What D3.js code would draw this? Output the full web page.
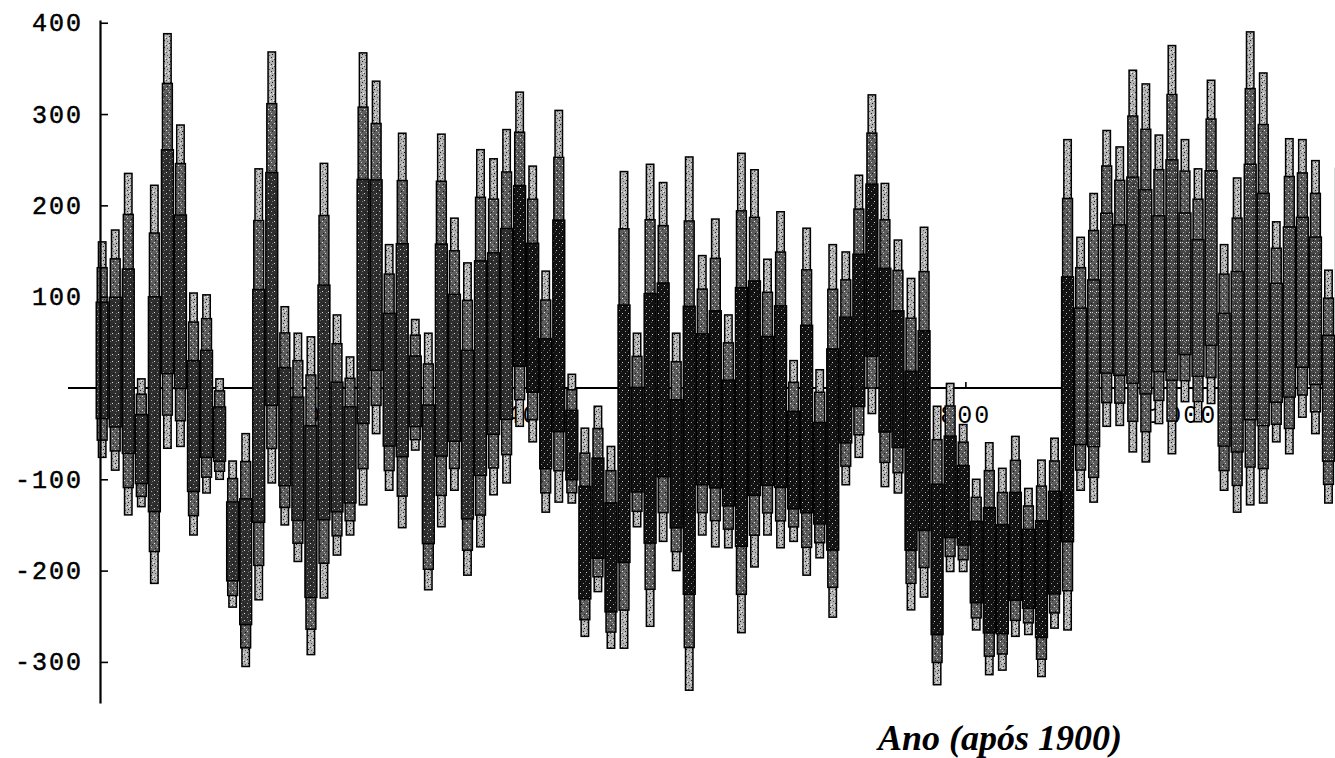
<!DOCTYPE html>
<html>
<head>
<meta charset="utf-8">
<script src="https://cdnjs.cloudflare.com/ajax/libs/d3/7.8.5/d3.min.js"></script>
<style>
  html, body { margin: 0; padding: 0; background: #fff; overflow: hidden; }
</style>
</head>
<body>
<svg id="chart"></svg>
<script>
// yearly extremes of the monthly series
var years = [1901,1902,1903,1904,1905,1906,1907,1908,1909,1910,
             1911,1912,1913,1914,1915,1916,1917,1918,1919,1920,
             1921,1922,1923,1924,1925,1926,1927,1928,1929,1930,
             1931,1932,1933,1934,1935,1936,1937,1938,1939,1940,
             1941,1942,1943,1944,1945,1946,1947,1948,1949,1950,
             1951,1952,1953,1954,1955,1956,1957,1958,1959,1960,
             1961,1962,1963,1964,1965,1966,1967,1968,1969,1970,
             1971,1972,1973,1974,1975,1976,1977,1978,1979,1980,
             1981,1982,1983,1984,1985,1986,1987,1988,1989,1990,
             1991,1992,1993,1994,1995,1996];

var highs = [160,173,235,10,222,388,288,104,102,10,
             -80,-50,240,368,89,60,56,246,80,34,
             367,336,157,279,75,60,278,186,137,261,
             251,283,324,243,128,304,15,-44,-20,-64,
             237,60,245,225,60,253,145,185,80,257,
             239,141,193,30,175,20,157,149,233,321,
             224,162,120,176,-20,5,-40,-100,-60,-88,
             -53,-110,-79,-55,272,165,213,282,264,348,
             333,277,375,272,240,337,157,230,390,345,
             182,273,272,249,129,383];

var lows = [-76,-90,-139,-130,-214,-66,-64,-161,-115,-100,
            -240,-305,-232,-104,-150,-190,-292,-230,-183,-161,
            -128,-50,-112,-153,-68,-221,-152,-112,-205,-174,
            -117,-104,-42,-59,-136,-125,-126,-272,-223,-285,
            -285,-152,-261,-168,-200,-331,-161,-174,-175,-268,
            -196,-161,-175,-168,-205,-186,-251,-106,-76,-28,
            -108,-115,-243,-229,-325,-201,-201,-265,-314,-309,
            -272,-270,-316,-263,-265,-112,-125,-42,-41,-70,
            -81,-39,-72,-15,-37,-17,-112,-136,-128,-126,
            -59,-72,-32,-50,-126,-126];

var monthTicks = [200, 400, 600, 800, 1000];
var monthMinor = [40,80,120,160,240,280,320,360,440,480,520,560,640,680,720,760,840,880,920,960,1040,1080,1120];
var valueTicks = [-300, -200, -100, 100, 200, 300, 400];
var axisTitle = "Ano (após 1900)";

var W = 1335, H = 758;
var svg = d3.select("#chart").attr("width", W).attr("height", H);

var x = d3.scaleLinear().domain([4, 1140]).range([100, 1335]);
var y = d3.scaleLinear().domain([-345, 403]).range([703, 20]);

var defs = svg.append("defs");

function speckle(id, bg, dots) {
    var p = defs.append("pattern")
        .attr("id", id)
        .attr("patternUnits", "userSpaceOnUse")
        .attr("width", 6).attr("height", 7);
    p.append("rect").attr("width", 6).attr("height", 7).attr("fill", bg);
    dots.forEach(function (d) {
        p.append("rect").attr("x", d[0]).attr("y", d[1])
            .attr("width", 1).attr("height", 1).attr("fill", d[2]);
    });
}
speckle("tipLight", "#b4b4b4", [[1,1,"#222"],[4,3,"#444"],[2,5,"#111"],[0,3,"#eee"],[5,6,"#555"],[3,2,"#fff"]]);
speckle("midGrey", "#5c5c5c", [[1,1,"#ccc"],[4,4,"#eee"],[2,5,"#222"],[5,2,"#111"],[0,6,"#aaa"]]);
speckle("coreDark", "#121212", [[1,2,"#999"],[4,5,"#ccc"],[3,0,"#555"]]);
speckle("coreMid", "#2e2e2e", [[1,1,"#aaa"],[4,4,"#ddd"],[2,5,"#777"],[5,2,"#111"]]);
speckle("coreGrey", "#444", [[1,1,"#bbb"],[4,4,"#eee"],[2,5,"#888"],[5,2,"#111"],[0,4,"#ccc"],[3,6,"#999"]]);

var fmt = function (d) { return d3.format("d")(d).replace("\u2212", "-"); };

// x axis (drawn first so the data covers it like the original)
var gx = svg.append("g").attr("transform", "translate(0," + y(0) + ")");
gx.append("line")
    .attr("x1", 68).attr("x2", W)
    .attr("stroke", "#000").attr("stroke-width", 2.2);
gx.call(d3.axisBottom(x).tickValues(monthMinor).tickSizeInner(-3).tickSizeOuter(0).tickFormat(""));
gx.call(d3.axisBottom(x).tickValues(monthTicks).tickSizeInner(-6).tickSizeOuter(0).tickPadding(17).tickFormat(fmt));
gx.selectAll(".domain").remove();
gx.selectAll(".tick line").attr("stroke", "#000").attr("stroke-width", 1.6);
gx.selectAll(".tick text")
    .attr("fill", "#000")
    .style("font-family", "'Liberation Mono', 'DejaVu Sans Mono', monospace")
    .style("font-size", "25px")
    .style("letter-spacing", "2px");

// data columns: thin light tip over the full yearly range, then wider and darker bands
var cols = svg.append("g");
function monthStart(yr) { return (yr - 1901) * 12; }
function coreFill(yr) {
    if (yr >= 1933 && yr <= 1975) return "url(#coreDark)";
    return yr > 1975 ? "url(#coreGrey)" : "url(#coreMid)";
}

var layers = [
    { top: 0.00, bot: 0.00, inset: 2.8, fill: function () { return "url(#tipLight)"; } },
    { top: 0.12, bot: 0.08, inset: 1.6, fill: function () { return "url(#midGrey)"; } },
    { top: 0.28, bot: 0.18, inset: 0.6, fill: coreFill }
];

years.forEach(function (yr, i) {
    var hi = highs[i], lo = lows[i], r = hi - lo;
    var x0 = x(monthStart(yr)), x1 = x(monthStart(yr) + 12);
    layers.forEach(function (L) {
        var a = hi - r * L.top, b = lo + r * L.bot;
        cols.append("rect")
            .attr("x", x0 + L.inset).attr("width", x1 - x0 - 2 * L.inset)
            .attr("y", y(a)).attr("height", y(b) - y(a))
            .attr("fill", L.fill(yr))
            .attr("stroke", "#000").attr("stroke-width", 1.5);
    });
});

// y axis
var gy = svg.append("g").attr("transform", "translate(" + x(4) + ",0)");
gy.call(d3.axisLeft(y).ticks(37).tickSizeInner(-4).tickSizeOuter(0).tickFormat(""));
gy.call(d3.axisLeft(y).tickValues(valueTicks).tickSizeInner(-8).tickSizeOuter(0).tickPadding(17).tickFormat(fmt));
gy.selectAll(".domain").attr("stroke", "#000").attr("stroke-width", 2.2);
gy.selectAll(".tick line").attr("stroke", "#000").attr("stroke-width", 1.6);
gy.selectAll(".tick text")
    .attr("fill", "#000")
    .attr("stroke", "#000").attr("stroke-width", 0.5)
    .style("font-family", "'Liberation Mono', 'DejaVu Sans Mono', monospace")
    .style("font-size", "25px")
    .style("letter-spacing", "2px");

// axis title
svg.append("text")
    .attr("x", 1000).attr("y", 750)
    .attr("text-anchor", "middle")
    .style("font-family", "'Liberation Serif', 'Times New Roman', serif")
    .style("font-style", "italic")
    .style("font-weight", "bold")
    .style("font-size", "36px")
    .attr("fill", "#000")
    .text(axisTitle);
</script>
</body>
</html>
